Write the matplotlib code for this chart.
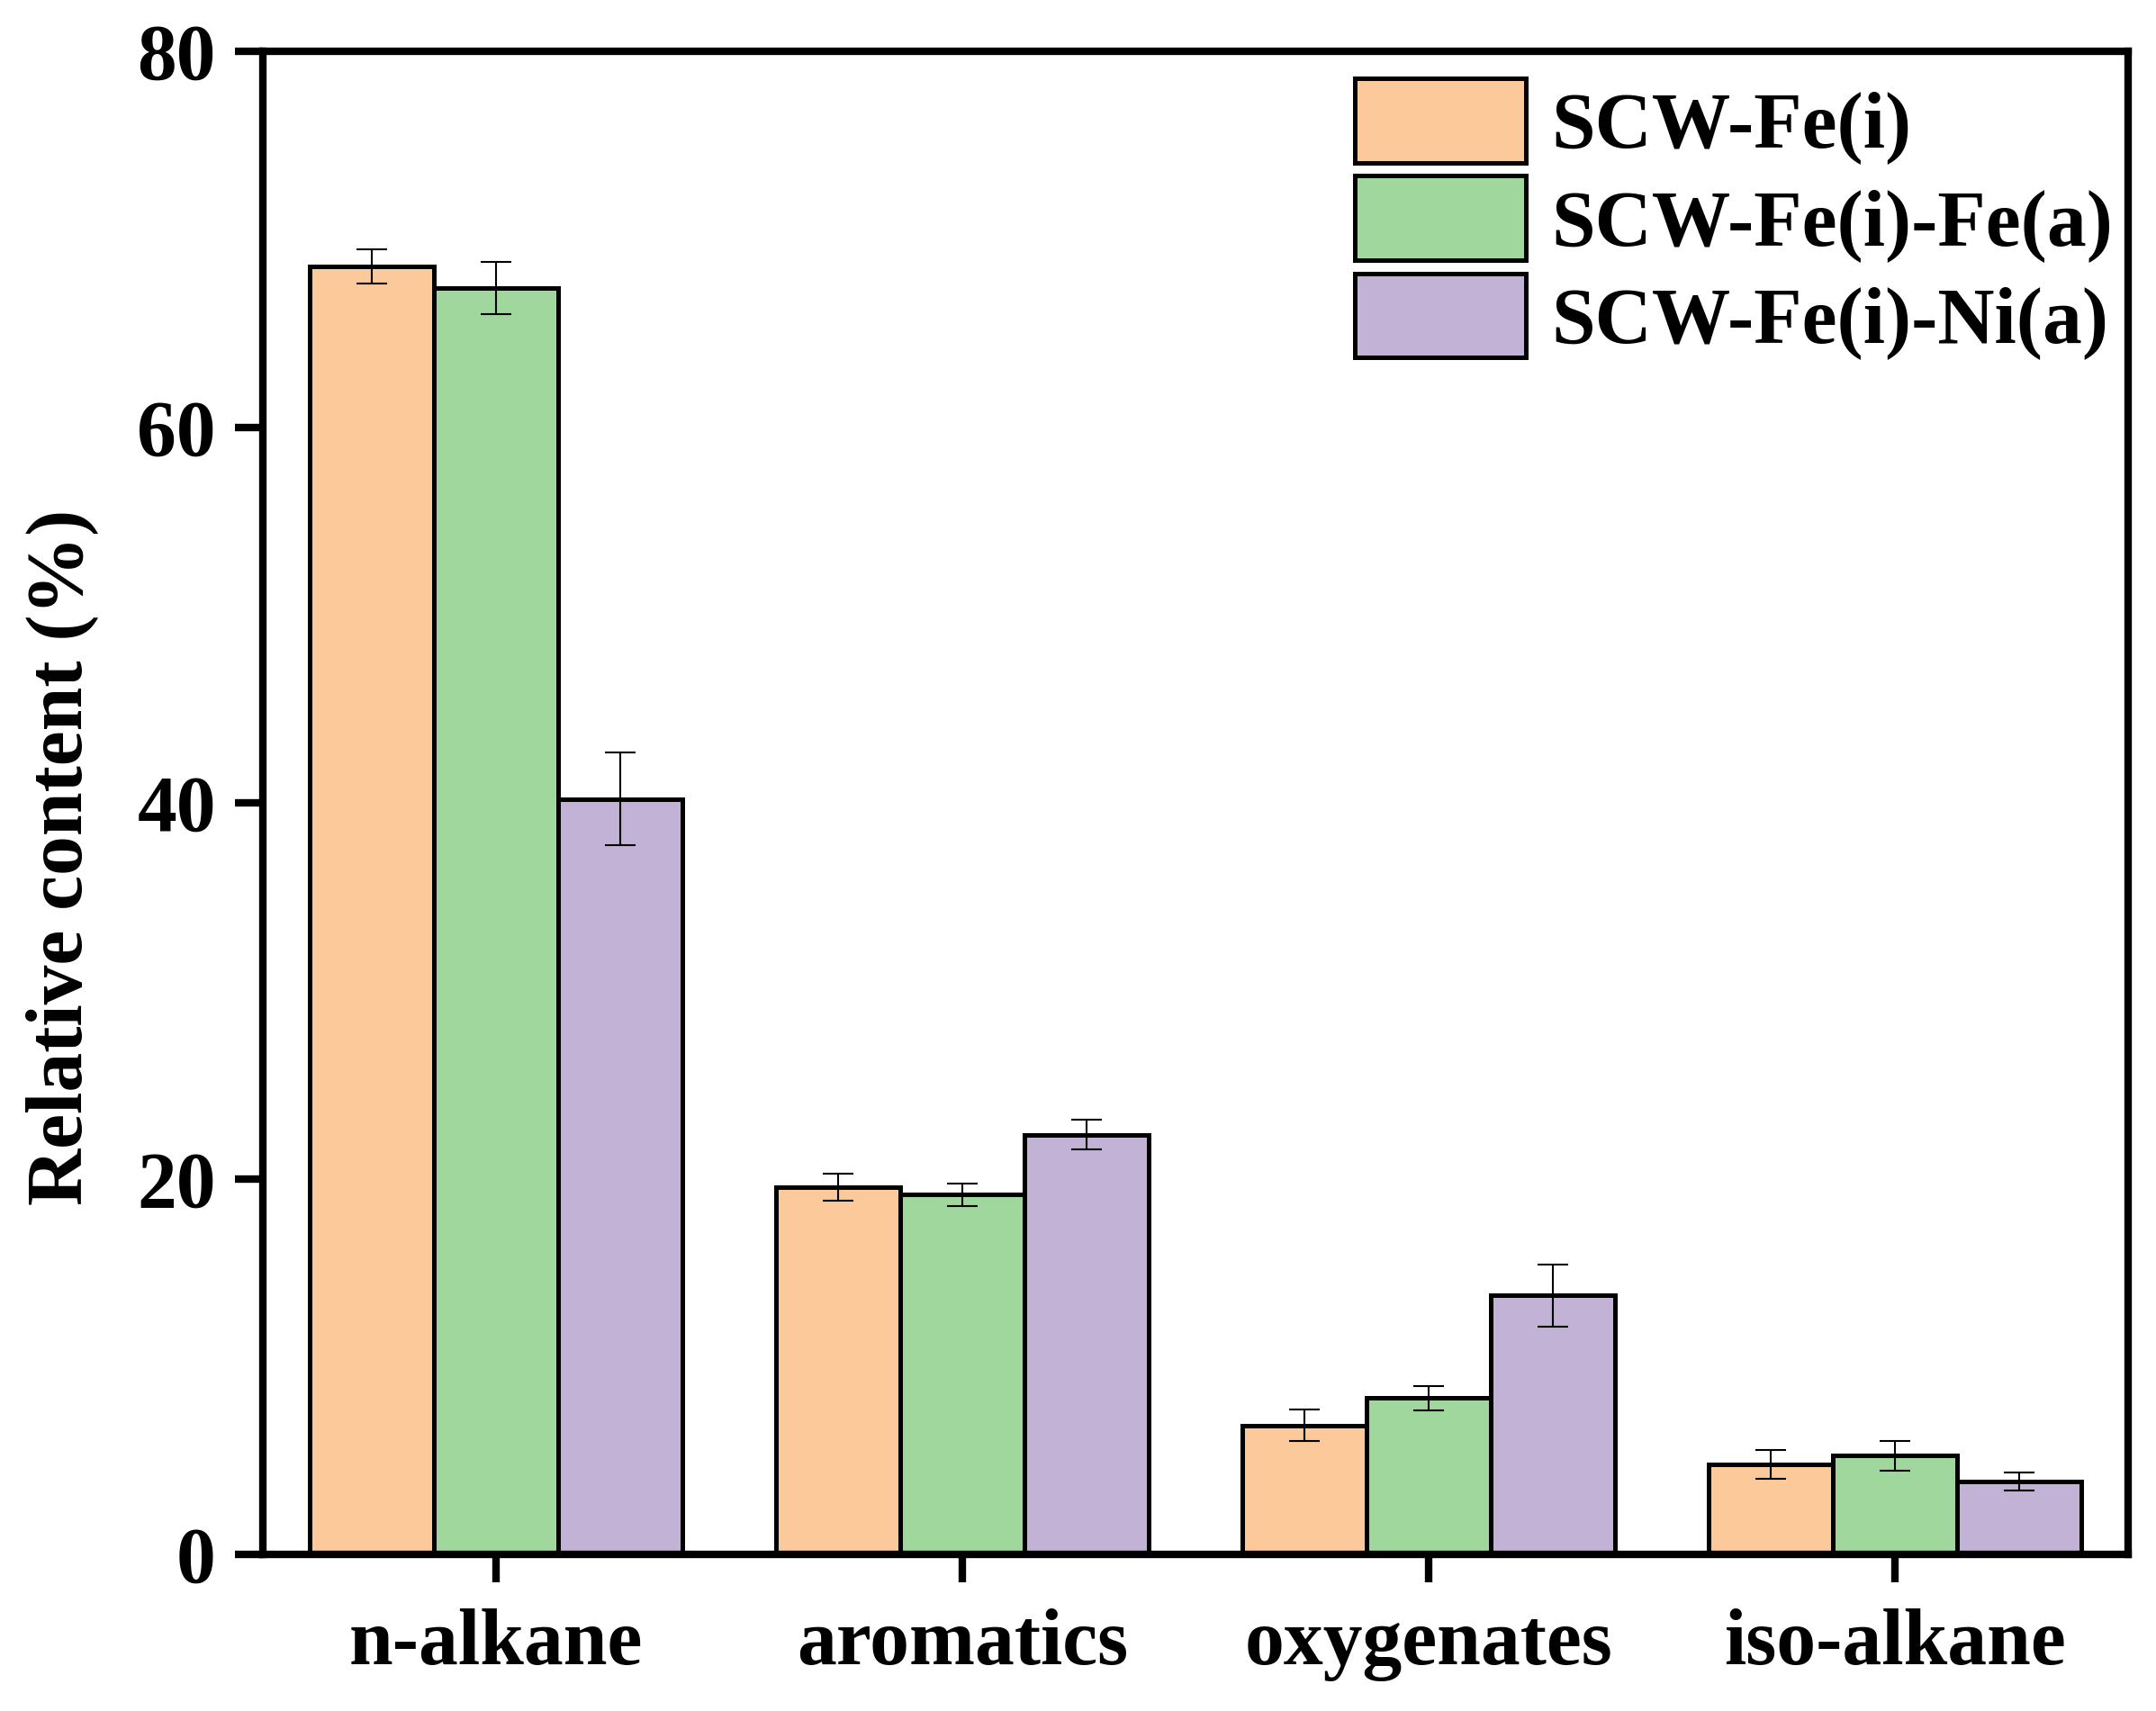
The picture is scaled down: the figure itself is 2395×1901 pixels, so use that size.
import matplotlib
matplotlib.use("Agg")
import matplotlib.pyplot as plt
import numpy as np

categories = ["n-alkane", "aromatics", "oxygenates", "iso-alkane"]
series_names = ["SCW-Fe(i)", "SCW-Fe(i)-Fe(a)", "SCW-Fe(i)-Ni(a)"]
fe_i = [68.55, 19.56, 6.86, 4.79]
fe_i_err = [0.93, 0.72, 0.84, 0.77]
fe_i_fe_a = [67.4, 19.15, 8.32, 5.25]
fe_i_fe_a_err = [1.4, 0.6, 0.65, 0.79]
fe_i_ni_a = [40.2, 22.34, 13.78, 3.88]
fe_i_ni_a_err = [2.47, 0.8, 1.65, 0.46]
colors = ["#FBC99A", "#9FD79C", "#C2B2D6"]
yticks = [0, 20, 40, 60, 80]

plt.rcParams['font.family'] = ['Liberation Serif', 'DejaVu Serif']
plt.rcParams['font.weight'] = 'bold'

fig = plt.figure(figsize=(2395/300, 1901/300), dpi=300)
ax = fig.add_axes([292/2395, 1-1727/1901, (2364-292)/2395, (1727-57)/1901])

x = np.arange(len(categories))
width = 0.8/3
values = [fe_i, fe_i_fe_a, fe_i_ni_a]
errs = [fe_i_err, fe_i_fe_a_err, fe_i_ni_a_err]
for i, (v, e, c, n) in enumerate(zip(values, errs, colors, series_names)):
    ax.bar(x + (i-1)*width, v, width, color=c, edgecolor='black', linewidth=1.2,
           label=n, zorder=2)
    ax.errorbar(x + (i-1)*width, v, yerr=e, fmt='none', ecolor='black',
                elinewidth=0.5, capsize=4, capthick=0.5, zorder=3)

ax.set_xlim(-0.5, 3.5)
ax.set_ylim(0, 80)
ax.set_yticks(yticks)
ax.set_xticks(x)
ax.set_xticklabels(categories)
for s in ax.spines.values():
    s.set_linewidth(2.0)
ax.tick_params(axis='both', which='major', direction='out', length=7.5, width=2.0,
               labelsize=21, top=False, right=False)
ax.tick_params(axis='y', pad=5)
ax.tick_params(axis='x', pad=7)
for lab in ax.get_xticklabels() + ax.get_yticklabels():
    lab.set_fontweight('bold')

ax.set_ylabel("Relative content (%)", fontsize=21, fontweight='bold')
ax.yaxis.set_label_coords(-0.0885, 0.464)

leg = ax.legend(loc='upper left', bbox_to_anchor=(0.5854, 0.982), frameon=False,
                handlelength=2.17, handleheight=1.27,
                handletextpad=0.33, labelspacing=0.15, borderpad=0, borderaxespad=0,
                prop={'weight': 'bold', 'size': 21})

fig.savefig("out.png", dpi=300)
